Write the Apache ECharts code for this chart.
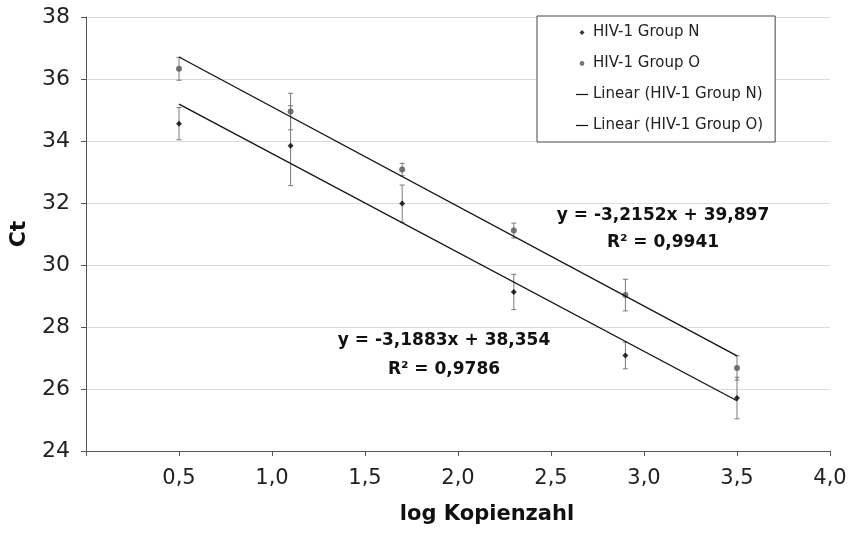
<!DOCTYPE html>
<html>
<head>
<meta charset="utf-8">
<title>Ct vs log Kopienzahl</title>
<script src="https://cdn.jsdelivr.net/npm/echarts@6/dist/echarts.min.js"></script>
<style>
  html, body { margin: 0; padding: 0; background: #fff; }
  #chart { width: 852px; height: 546px; }
</style>
</head>
<body>
<div id="chart"></div>
<script>
// log Kopienzahl
const xVals = [0.5, 1.1, 1.7, 2.3, 2.9, 3.5]
// HIV-1 Group N: Ct und Fehler
const ctN = [34.56, 33.85, 31.98, 29.13, 27.08, 25.71]
const errN = [0.52, 1.29, 0.6, 0.57, 0.43, 0.67]
// HIV-1 Group O: Ct und Fehler
const ctO = [36.33, 34.95, 33.08, 31.11, 29.03, 26.68]
const errO = [0.37, 0.59, 0.2, 0.24, 0.51, 0.39]
// Trendlinien (Anfang / Ende)
const trendX = [0.5, 3.5]
const trendN = [35.19, 25.62]
const trendO = [36.71, 27.07]
// Gleichungen
const eqO = ['y = -3,2152x + 39,897', 'R² = 0,9941']
const eqN = ['y = -3,1883x + 38,354', 'R² = 0,9786']

const FONT = 'DejaVu Sans'

// Legendensymbole: 12x6 Box, damit nichts verzerrt wird
const BOX = ' M0,0 L0,0 M12,6 L12,6'
const ICON_DIAMOND = 'path://M6,0.5 L8.5,3 L6,5.5 L3.5,3 Z' + BOX
const ICON_DOT = 'path://M6,0.6 A2.4,2.4 0 1 1 5.99,0.6 Z' + BOX
const ICON_LINE = 'path://M0,2.4 L12,2.4 L12,3.6 L0,3.6 Z' + BOX

function errorBars(ys, errs, color) {
  return {
    type: 'custom',
    name: 'err',
    silent: true,
    z: 1,
    data: xVals.map((x, i) => [x, ys[i] - errs[i], ys[i] + errs[i]]),
    encode: { x: 0, y: [1, 2] },
    renderItem(params, api) {
      const lo = api.coord([api.value(0), api.value(1)])
      const hi = api.coord([api.value(0), api.value(2)])
      const w = 2.5
      const st = { stroke: color, lineWidth: 1 }
      return {
        type: 'group',
        children: [
          { type: 'line', shape: { x1: lo[0], y1: lo[1], x2: hi[0], y2: hi[1] }, style: st },
          { type: 'line', shape: { x1: lo[0] - w, y1: lo[1], x2: lo[0] + w, y2: lo[1] }, style: st },
          { type: 'line', shape: { x1: hi[0] - w, y1: hi[1], x2: hi[0] + w, y2: hi[1] }, style: st }
        ]
      }
    }
  }
}

function eqText(lines, cx, y1, y2) {
  return lines.map((t, i) => ({
    type: 'text',
    x: cx,
    y: i === 0 ? y1 : y2,
    z: 50,
    style: {
      text: t,
      fontFamily: FONT,
      fontWeight: 'bold',
      fontSize: 17,
      fill: '#111',
      align: 'center',
      verticalAlign: 'middle'
    }
  }))
}

const chart = echarts.init(document.getElementById('chart'))

const option = {
  animation: false,
  textStyle: { fontFamily: FONT },
  grid: { left: 86, right: 22, top: 17, bottom: 95 },
  xAxis: {
    type: 'value',
    min: 0,
    max: 4,
    interval: 0.5,
    axisLine: { show: true, lineStyle: { color: '#555' } },
    axisTick: { show: true, length: 5, lineStyle: { color: '#555' } },
    splitLine: { show: false },
    axisLabel: {
      fontSize: 21,
      color: '#222',
      margin: 17,
      formatter: v => (v === 0 ? '' : v.toFixed(1).replace('.', ','))
    }
  },
  yAxis: {
    type: 'value',
    min: 24,
    max: 38,
    interval: 2,
    name: 'Ct',
    nameLocation: 'middle',
    nameGap: 56,
    nameTextStyle: { fontSize: 22, fontWeight: 'bold', color: '#111' },
    axisLine: { show: true, lineStyle: { color: '#555' } },
    axisTick: { show: true, length: 5, lineStyle: { color: '#555' } },
    splitLine: { show: true, lineStyle: { color: '#dcdcdc' } },
    axisLabel: { fontSize: 22, color: '#222', margin: 16 }
  },
  legend: {
    orient: 'vertical',
    left: 537,
    top: 16,
    padding: [9, 12, 9, 39],
    itemGap: 16,
    itemWidth: 12,
    itemHeight: 6,
    backgroundColor: '#fff',
    borderColor: '#444',
    borderWidth: 1,
    borderRadius: 0,
    textStyle: { fontSize: 15, color: '#222', fontFamily: FONT },
    data: [
      { name: 'HIV-1 Group N', icon: ICON_DIAMOND },
      { name: 'HIV-1 Group O', icon: ICON_DOT },
      { name: 'Linear (HIV-1 Group N)', icon: ICON_LINE },
      { name: 'Linear (HIV-1 Group O)', icon: ICON_LINE }
    ]
  },
  graphic: [
    {
      type: 'text',
      x: 487,
      y: 515,
      style: {
        text: 'log Kopienzahl',
        fontFamily: FONT,
        fontWeight: 'bold',
        fontSize: 21,
        fill: '#111',
        align: 'center',
        verticalAlign: 'middle'
      }
    },
    ...eqText(eqO, 663, 216, 243),
    ...eqText(eqN, 444, 341, 370)
  ],
  series: [
    errorBars(ctN, errN, '#7a7a7a'),
    errorBars(ctO, errO, '#7a7a7a'),
    {
      name: 'HIV-1 Group N',
      type: 'scatter',
      symbol: 'diamond',
      symbolSize: 6,
      z: 3,
      itemStyle: { color: '#000' },
      data: xVals.map((x, i) => [x, ctN[i]])
    },
    {
      name: 'HIV-1 Group O',
      type: 'scatter',
      symbol: 'circle',
      symbolSize: 6,
      z: 3,
      itemStyle: { color: '#555' },
      data: xVals.map((x, i) => [x, ctO[i]])
    },
    {
      name: 'Linear (HIV-1 Group N)',
      type: 'line',
      symbol: 'none',
      z: 4,
      lineStyle: { color: '#111', width: 1.3 },
      itemStyle: { color: '#111' },
      data: trendX.map((x, i) => [x, trendN[i]])
    },
    {
      name: 'Linear (HIV-1 Group O)',
      type: 'line',
      symbol: 'none',
      z: 4,
      lineStyle: { color: '#111', width: 1.3 },
      itemStyle: { color: '#111' },
      data: trendX.map((x, i) => [x, trendO[i]])
    }
  ]
}

chart.setOption(option)
</script>
</body>
</html>
